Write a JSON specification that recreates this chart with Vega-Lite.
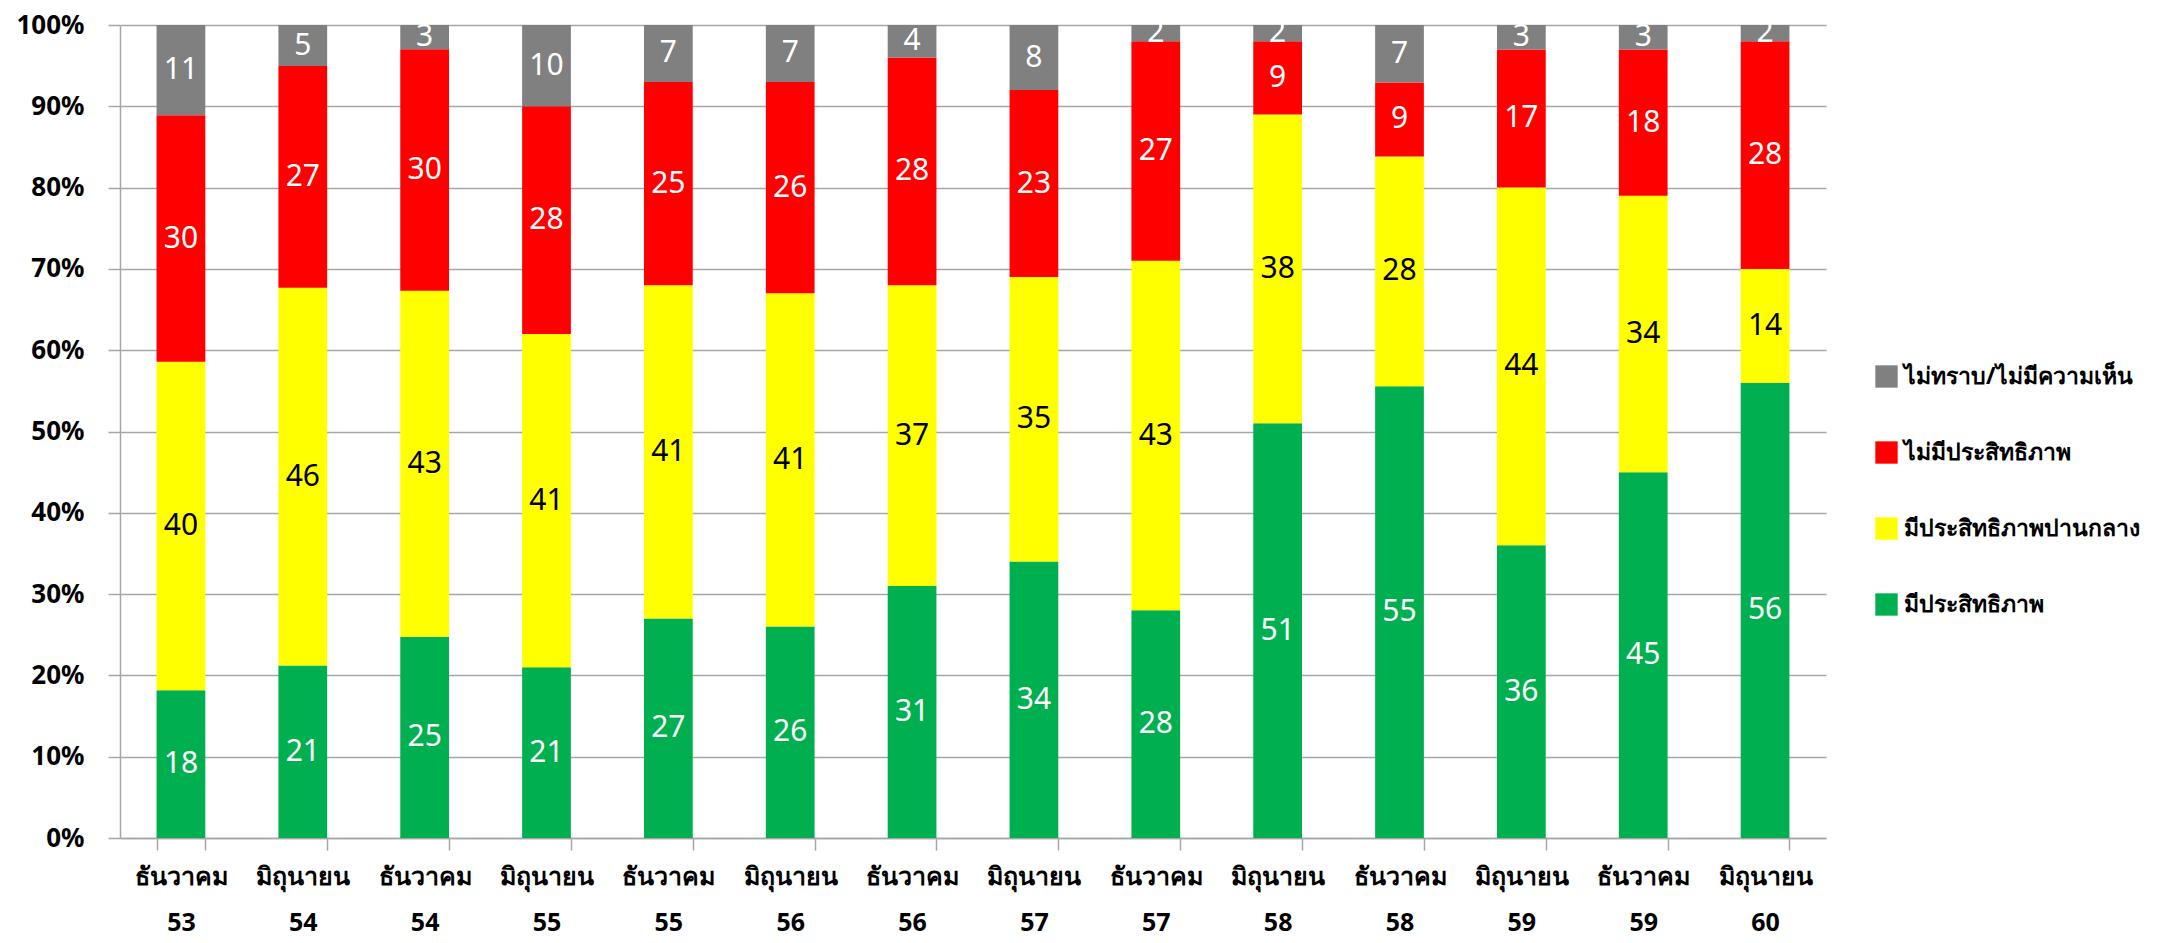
{
  "$schema": "https://vega.github.io/schema/vega-lite/v6.json",
  "width": 1706,
  "height": 813,
  "autosize": "none",
  "padding": {"left": 120, "top": 25, "right": 352, "bottom": 105},
  "background": "white",
  "config": {
    "view": {"stroke": null},
    "font": "Tahoma, Noto Sans, DejaVu Sans, sans-serif",
    "axisY": {
      "labelFontSize": 26,
      "labelFontWeight": "bold",
      "labelColor": "black",
      "labelPadding": 24,
      "labelOverlap": false,
      "tickSize": 12,
      "tickColor": "#A6A6A6",
      "tickWidth": 1.5,
      "domainColor": "#A6A6A6",
      "domainWidth": 1.5,
      "grid": true,
      "gridColor": "#A6A6A6",
      "gridWidth": 1.5,
      "title": null
    }
  },
  "data": {
    "values": [
      {"period": "ธันวาคม 53", "cat": "มีประสิทธิภาพ", "ord": 1, "value": 18},
      {"period": "ธันวาคม 53", "cat": "มีประสิทธิภาพปานกลาง", "ord": 2, "value": 40},
      {"period": "ธันวาคม 53", "cat": "ไม่มีประสิทธิภาพ", "ord": 3, "value": 30},
      {"period": "ธันวาคม 53", "cat": "ไม่ทราบ/ไม่มีความเห็น", "ord": 4, "value": 11},
      {"period": "มิถุนายน 54", "cat": "มีประสิทธิภาพ", "ord": 1, "value": 21},
      {"period": "มิถุนายน 54", "cat": "มีประสิทธิภาพปานกลาง", "ord": 2, "value": 46},
      {"period": "มิถุนายน 54", "cat": "ไม่มีประสิทธิภาพ", "ord": 3, "value": 27},
      {"period": "มิถุนายน 54", "cat": "ไม่ทราบ/ไม่มีความเห็น", "ord": 4, "value": 5},
      {"period": "ธันวาคม 54", "cat": "มีประสิทธิภาพ", "ord": 1, "value": 25},
      {"period": "ธันวาคม 54", "cat": "มีประสิทธิภาพปานกลาง", "ord": 2, "value": 43},
      {"period": "ธันวาคม 54", "cat": "ไม่มีประสิทธิภาพ", "ord": 3, "value": 30},
      {"period": "ธันวาคม 54", "cat": "ไม่ทราบ/ไม่มีความเห็น", "ord": 4, "value": 3},
      {"period": "มิถุนายน 55", "cat": "มีประสิทธิภาพ", "ord": 1, "value": 21},
      {"period": "มิถุนายน 55", "cat": "มีประสิทธิภาพปานกลาง", "ord": 2, "value": 41},
      {"period": "มิถุนายน 55", "cat": "ไม่มีประสิทธิภาพ", "ord": 3, "value": 28},
      {"period": "มิถุนายน 55", "cat": "ไม่ทราบ/ไม่มีความเห็น", "ord": 4, "value": 10},
      {"period": "ธันวาคม 55", "cat": "มีประสิทธิภาพ", "ord": 1, "value": 27},
      {"period": "ธันวาคม 55", "cat": "มีประสิทธิภาพปานกลาง", "ord": 2, "value": 41},
      {"period": "ธันวาคม 55", "cat": "ไม่มีประสิทธิภาพ", "ord": 3, "value": 25},
      {"period": "ธันวาคม 55", "cat": "ไม่ทราบ/ไม่มีความเห็น", "ord": 4, "value": 7},
      {"period": "มิถุนายน 56", "cat": "มีประสิทธิภาพ", "ord": 1, "value": 26},
      {"period": "มิถุนายน 56", "cat": "มีประสิทธิภาพปานกลาง", "ord": 2, "value": 41},
      {"period": "มิถุนายน 56", "cat": "ไม่มีประสิทธิภาพ", "ord": 3, "value": 26},
      {"period": "มิถุนายน 56", "cat": "ไม่ทราบ/ไม่มีความเห็น", "ord": 4, "value": 7},
      {"period": "ธันวาคม 56", "cat": "มีประสิทธิภาพ", "ord": 1, "value": 31},
      {"period": "ธันวาคม 56", "cat": "มีประสิทธิภาพปานกลาง", "ord": 2, "value": 37},
      {"period": "ธันวาคม 56", "cat": "ไม่มีประสิทธิภาพ", "ord": 3, "value": 28},
      {"period": "ธันวาคม 56", "cat": "ไม่ทราบ/ไม่มีความเห็น", "ord": 4, "value": 4},
      {"period": "มิถุนายน 57", "cat": "มีประสิทธิภาพ", "ord": 1, "value": 34},
      {"period": "มิถุนายน 57", "cat": "มีประสิทธิภาพปานกลาง", "ord": 2, "value": 35},
      {"period": "มิถุนายน 57", "cat": "ไม่มีประสิทธิภาพ", "ord": 3, "value": 23},
      {"period": "มิถุนายน 57", "cat": "ไม่ทราบ/ไม่มีความเห็น", "ord": 4, "value": 8},
      {"period": "ธันวาคม 57", "cat": "มีประสิทธิภาพ", "ord": 1, "value": 28},
      {"period": "ธันวาคม 57", "cat": "มีประสิทธิภาพปานกลาง", "ord": 2, "value": 43},
      {"period": "ธันวาคม 57", "cat": "ไม่มีประสิทธิภาพ", "ord": 3, "value": 27},
      {"period": "ธันวาคม 57", "cat": "ไม่ทราบ/ไม่มีความเห็น", "ord": 4, "value": 2},
      {"period": "มิถุนายน 58", "cat": "มีประสิทธิภาพ", "ord": 1, "value": 51},
      {"period": "มิถุนายน 58", "cat": "มีประสิทธิภาพปานกลาง", "ord": 2, "value": 38},
      {"period": "มิถุนายน 58", "cat": "ไม่มีประสิทธิภาพ", "ord": 3, "value": 9},
      {"period": "มิถุนายน 58", "cat": "ไม่ทราบ/ไม่มีความเห็น", "ord": 4, "value": 2},
      {"period": "ธันวาคม 58", "cat": "มีประสิทธิภาพ", "ord": 1, "value": 55},
      {"period": "ธันวาคม 58", "cat": "มีประสิทธิภาพปานกลาง", "ord": 2, "value": 28},
      {"period": "ธันวาคม 58", "cat": "ไม่มีประสิทธิภาพ", "ord": 3, "value": 9},
      {"period": "ธันวาคม 58", "cat": "ไม่ทราบ/ไม่มีความเห็น", "ord": 4, "value": 7},
      {"period": "มิถุนายน 59", "cat": "มีประสิทธิภาพ", "ord": 1, "value": 36},
      {"period": "มิถุนายน 59", "cat": "มีประสิทธิภาพปานกลาง", "ord": 2, "value": 44},
      {"period": "มิถุนายน 59", "cat": "ไม่มีประสิทธิภาพ", "ord": 3, "value": 17},
      {"period": "มิถุนายน 59", "cat": "ไม่ทราบ/ไม่มีความเห็น", "ord": 4, "value": 3},
      {"period": "ธันวาคม 59", "cat": "มีประสิทธิภาพ", "ord": 1, "value": 45},
      {"period": "ธันวาคม 59", "cat": "มีประสิทธิภาพปานกลาง", "ord": 2, "value": 34},
      {"period": "ธันวาคม 59", "cat": "ไม่มีประสิทธิภาพ", "ord": 3, "value": 18},
      {"period": "ธันวาคม 59", "cat": "ไม่ทราบ/ไม่มีความเห็น", "ord": 4, "value": 3},
      {"period": "มิถุนายน 60", "cat": "มีประสิทธิภาพ", "ord": 1, "value": 56},
      {"period": "มิถุนายน 60", "cat": "มีประสิทธิภาพปานกลาง", "ord": 2, "value": 14},
      {"period": "มิถุนายน 60", "cat": "ไม่มีประสิทธิภาพ", "ord": 3, "value": 28},
      {"period": "มิถุนายน 60", "cat": "ไม่ทราบ/ไม่มีความเห็น", "ord": 4, "value": 2}
    ]
  },
  "encoding": {
    "x": {
      "field": "period",
      "type": "nominal",
      "sort": null,
      "title": null,
      "scale": {"paddingInner": 0.6, "paddingOuter": 0.3},
      "axis": {
        "labelAngle": 0,
        "labelExpr": "split(datum.label, ' ')",
        "labelFontSize": 25,
        "labelFontWeight": "bold",
        "labelColor": "black",
        "labelLineHeight": 46,
        "labelPadding": 14,
        "labelBaseline": "top",
        "tickBand": "extent",
        "tickSize": 12,
        "tickColor": "#A6A6A6",
        "tickWidth": 1.5,
        "domainColor": "#A6A6A6",
        "domainWidth": 1.5,
        "grid": false
      }
    }
  },
  "layer": [
    {
      "mark": {"type": "bar"},
      "encoding": {
        "y": {
          "field": "value",
          "type": "quantitative",
          "stack": "normalize",
          "title": null,
          "scale": {"domain": [0, 1], "nice": false},
          "axis": {
            "format": ".0%",
            "values": [0, 0.1, 0.2, 0.3, 0.4, 0.5, 0.6, 0.7, 0.8, 0.9, 1]
          }
        },
        "color": {
          "field": "cat",
          "type": "nominal",
          "scale": {
            "domain": ["ไม่ทราบ/ไม่มีความเห็น", "ไม่มีประสิทธิภาพ", "มีประสิทธิภาพปานกลาง", "มีประสิทธิภาพ"],
            "range": ["#808080", "#FF0000", "#FFFF00", "#00B050"]
          },
          "legend": {
            "title": null,
            "orient": "none",
            "legendX": 1755,
            "legendY": 340,
            "symbolType": "square",
            "symbolSize": 500,
            "symbolStrokeWidth": 0,
            "labelFontSize": 23,
            "labelFontWeight": "bold",
            "labelColor": "black",
            "labelLimit": 400,
            "labelOffset": 6,
            "rowPadding": 52
          }
        },
        "order": {"field": "ord", "type": "quantitative"}
      }
    },
    {
      "mark": {"type": "text", "fontSize": 30, "baseline": "middle", "align": "center"},
      "encoding": {
        "y": {
          "field": "value",
          "type": "quantitative",
          "stack": "normalize",
          "bandPosition": 0.5,
          "title": null,
          "axis": {
            "format": ".0%",
            "values": [0, 0.1, 0.2, 0.3, 0.4, 0.5, 0.6, 0.7, 0.8, 0.9, 1]
          }
        },
        "text": {"field": "value", "type": "quantitative"},
        "color": {
          "condition": {"test": "datum.cat === 'มีประสิทธิภาพปานกลาง'", "value": "black"},
          "value": "white"
        },
        "order": {"field": "ord", "type": "quantitative"}
      }
    }
  ]
}
